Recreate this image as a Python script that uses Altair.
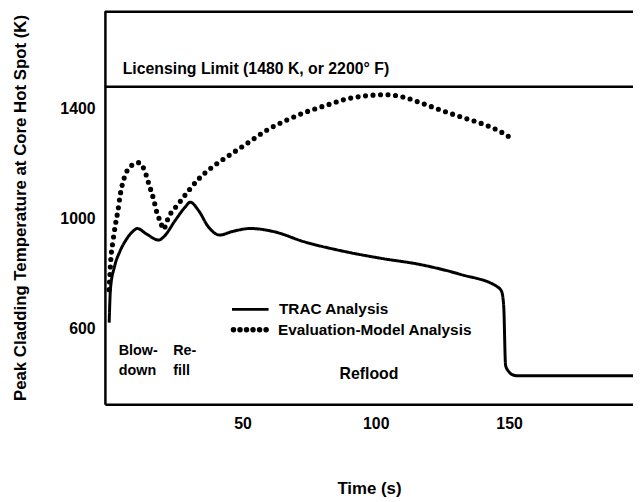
import altair as alt
import pandas as pd

# TRAC analysis (solid curve): time (s), peak cladding temperature (K)
trac_t = [0, 0.5, 2, 4, 6.3, 8.7, 10.6, 13.7, 18.6, 20.5, 24.8, 28.5, 30.4, 33.5, 37.2,
          41.5, 45.8, 53, 62, 73, 85.5, 101.5, 117, 132, 145.7, 147.2, 148, 148.7, 150,
          151, 153.3, 196.5]
trac_T = [620, 745, 824, 879, 921, 951, 963, 945, 921, 933, 993, 1041, 1059, 1029, 969,
          939, 951, 963, 951, 915, 885, 855, 831, 795, 750, 734, 680, 464, 440,
          431, 426, 426]

# Evaluation-model analysis (dotted curve)
em_t = [0, 0.7, 1.4, 2.3, 3.3, 4.2, 5.7, 8.2, 11, 13.1, 14.9, 16.8, 18, 19.3, 20.3, 22.3,
        26, 29.8, 33.5, 38.4, 44.6, 52, 59.4, 66.8, 74.2, 81.7, 89, 96.5, 103.5, 110,
        117.5, 126, 133.5, 141, 147, 151]
em_T = [740, 861, 915, 975, 1029, 1089, 1149, 1191, 1203, 1179, 1125, 1065, 1017, 987, 960,
        1005, 1053, 1101, 1143, 1185, 1227, 1275, 1323, 1359, 1389, 1413, 1435, 1447, 1451,
        1443, 1419, 1389, 1365, 1341, 1315, 1291]

limit_K = 1480
x_ticks = [50, 100, 150]
y_ticks = [600, 1000, 1400]

trac_df = pd.DataFrame({"t": trac_t, "T": trac_T, "series": "TRAC Analysis"})
em_df = pd.DataFrame({"t": em_t, "T": em_T, "series": "Evaluation-Model Analysis"})

FONT = "Liberation Sans"

xscale = alt.Scale(domain=[-1.6, 196.5], nice=False, zero=False)
yscale = alt.Scale(domain=[322, 1757], nice=False, zero=False)

xaxis = alt.Axis(values=x_ticks, format="d", title="Time (s)", grid=False, ticks=False,
                 domainColor="black", domainWidth=2.5, labelPadding=11, titlePadding=50)
yaxis = alt.Axis(values=y_ticks, format="d", title="Peak Cladding Temperature at Core Hot Spot (K)",
                 grid=False, ticks=False, domainColor="black", domainWidth=2.5,
                 labelPadding=10, titlePadding=31)

common_legend = dict(title=None, orient="none", padding=0, labelFont=FONT, labelFontSize=15.5,
                     labelFontWeight="bold", labelColor="black", labelOffset=9, labelLimit=300,
                     symbolSize=1369)

trac = alt.Chart(trac_df).mark_line(color="black", strokeWidth=3, interpolate="monotone").encode(
    x=alt.X("t:Q", scale=xscale, axis=xaxis),
    y=alt.Y("T:Q", scale=yscale, axis=yaxis),
    strokeDash=alt.StrokeDash("series:N", scale=alt.Scale(range=[[1, 0]]),
                              legend=alt.Legend(legendX=127, legendY=282, symbolType="stroke",
                                                symbolStrokeWidth=3, **common_legend)),
)

dots = " ".join(
    f"M{c - 0.11:.3f},0A0.11,0.11 0 1,0 {c + 0.11:.3f},0A0.11,0.11 0 1,0 {c - 0.11:.3f},0Z"
    for c in [-0.892, -0.535, -0.178, 0.178, 0.535, 0.892]
)

em = alt.Chart(em_df).mark_line(color="black", strokeWidth=5.2, strokeDash=[0, 7.6], strokeCap="round",
                                interpolate="monotone").encode(
    x=alt.X("t:Q", scale=xscale),
    y=alt.Y("T:Q", scale=yscale),
    opacity=alt.Opacity("series:N", scale=alt.Scale(range=[1, 1]),
                        legend=alt.Legend(legendX=127, legendY=303, symbolType=dots,
                                          symbolFillColor="black", symbolStrokeColor="black",
                                          **common_legend)),
)

one = pd.DataFrame({"k": [0]})

limit = alt.Chart(one).mark_rule(color="black", strokeWidth=2.5).encode(y=alt.datum(limit_K))
top = alt.Chart(one).mark_rule(color="black", strokeWidth=2.5).encode(y=alt.value(1))

def label(text, x, y, size=15.5, align="left"):
    return alt.Chart(one).mark_text(text=text, font=FONT, fontSize=size, fontWeight="bold",
                                    color="black", align=align, baseline="middle").encode(
        x=alt.value(x), y=alt.value(y))

texts = [
    label("Licensing Limit (1480 K, or 2200\u00b0 F)", 18, 59, size=16),
    label("Blow-", 14, 344, size=14.5),
    label("down", 14, 364, size=14.5),
    label("Re-", 69, 344, size=14.5),
    label("fill", 69, 364, size=14.5),
    label("Reflood", 267, 367, size=16, align="center"),
]

chart = alt.layer(top, limit, trac, em, *texts).properties(
    width=534, height=398,
    padding={"left": 98, "top": 0, "right": 0, "bottom": 94},
    autosize=alt.AutoSizeParams(type="none"),
).configure_view(stroke=None).configure_axis(
    labelFont=FONT, labelFontSize=16, labelFontWeight="bold", labelColor="black",
    titleFont=FONT, titleFontSize=17, titleFontWeight="bold", titleColor="black",
)

chart.save("out.html", embed_options={"renderer": "svg", "actions": False})
